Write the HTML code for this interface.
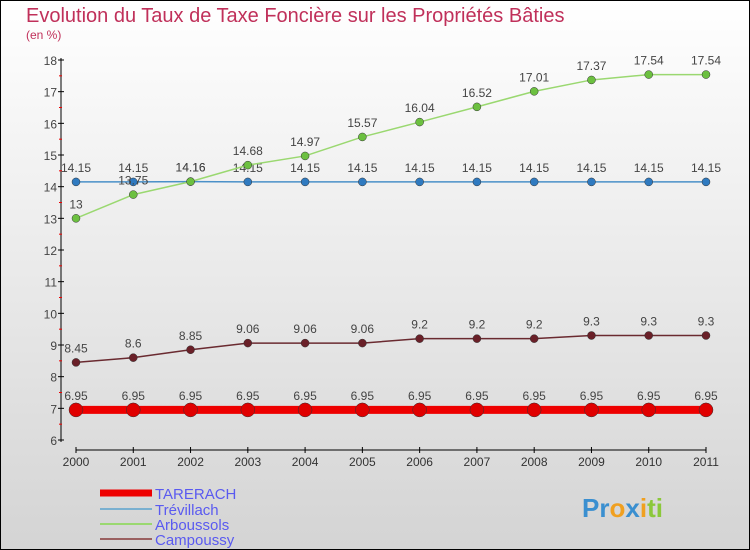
<!DOCTYPE html>
<html><head><meta charset="utf-8"><style>
body{margin:0}
#c{width:750px;height:550px;position:relative;overflow:hidden;font-family:"Liberation Sans",sans-serif}
</style></head><body>
<div id="c">
<svg id="s" width="750" height="550" xmlns="http://www.w3.org/2000/svg">
<defs><linearGradient id="bg" x1="0" y1="0" x2="0" y2="1"><stop offset="0" stop-color="#ffffff"/><stop offset="1" stop-color="#d4d4d4"/></linearGradient></defs>
<rect x="0.5" y="0.5" width="749" height="549" fill="url(#bg)" stroke="#000"/>
<text x="26" y="22" font-size="20" fill="#c0305a">Evolution du Taux de Taxe Foncière sur les Propriétés Bâties</text>
<text x="26" y="39" font-size="12" fill="#c0305a">(en %)</text>
<g id="axes"></g><g id="series"></g><g id="legend"></g>
<text x="582" y="517" font-size="26" font-weight="bold" fill="#3a8fd0">Pr<tspan fill="#f0a020">o</tspan><tspan fill="#3a8fd0">x</tspan><tspan fill="#f0a020">i</tspan><tspan fill="#8bc83a">ti</tspan></text>
</svg></div>
<script>
const years=[2000,2001,2002,2003,2004,2005,2006,2007,2008,2009,2010,2011];
const yTicks=[6,7,8,9,10,11,12,13,14,15,16,17,18];
const seriesNames=["TARERACH","Trévillach","Arboussols","Campoussy"];
const tarerach=[6.95,6.95,6.95,6.95,6.95,6.95,6.95,6.95,6.95,6.95,6.95,6.95];
const trevillach=[14.15,14.15,14.16,14.15,14.15,14.15,14.15,14.15,14.15,14.15,14.15,14.15];
const arboussols=[13,13.75,14.16,14.68,14.97,15.57,16.04,16.52,17.01,17.37,17.54,17.54];
const campoussy=[8.45,8.6,8.85,9.06,9.06,9.06,9.2,9.2,9.2,9.3,9.3,9.3];
const NS="http://www.w3.org/2000/svg";
const X=i=>76+i*(706-76)/(years.length-1);
const Y=v=>440-(v-6)*380/12;
function mk(t,a,p){const e=document.createElementNS(NS,t);for(const k in a)e.setAttribute(k,a[k]);p.appendChild(e);return e;}
const ax=document.getElementById('axes');
let e=mk('line',{x1:61,y1:58,x2:61,y2:442,stroke:'#000'},ax);


e=mk('line',{x1:76,y1:450,x2:706,y2:450,stroke:'#000'},ax);


yTicks.forEach((v,i)=>{
 mk('line',{x1:58,y1:Y(v),x2:64,y2:Y(v),stroke:'#000'},ax);
 if(i<yTicks.length-1) mk('line',{x1:59,y1:Y(v+0.5),x2:62,y2:Y(v+0.5),stroke:'#e00'},ax);
 const t=mk('text',{x:57,y:Y(v)+5,'font-size':12,fill:'#444','text-anchor':'end'},ax);t.textContent=v;
 
 
});
years.forEach((y,i)=>{
 mk('line',{x1:X(i),y1:447,x2:X(i),y2:453,stroke:'#000'},ax);
 const t=mk('text',{x:X(i),y:466,'font-size':12,fill:'#333','text-anchor':'middle'},ax);t.textContent=y;
 
 
});
const sg=document.getElementById('series');
const defs=[[trevillach,'#4a90c8','#2f7ac0',1.5,4,'trevillach'],[arboussols,'#9ad870','#6cc040',1.5,4,'arboussols'],[campoussy,'#6a2a30','#6a2028',1.5,4,'campoussy'],[tarerach,'#ee0000','#e00000',8,7,'tarerach']];
defs.forEach(([d,lc,pc,w,r,n])=>{
 const g=mk('g',{},sg);
 
 
 const l=mk('polyline',{points:d.map((v,i)=>X(i)+','+Y(v)).join(' '),fill:'none',stroke:lc,'stroke-width':w},g);
 
 
 d.forEach((v,i)=>{
  const c=mk('circle',{cx:X(i),cy:Y(v),r:r,fill:pc,stroke:'#333','stroke-width':0.5},g);
  
  
  const t=mk('text',{x:X(i),y:Y(v)-10,'font-size':12,fill:'#444','text-anchor':'middle'},g);t.textContent=v;
  
  
 });
});
const lg=document.getElementById('legend');
const lcols=['#ee0000','#7ab0d0','#9ad870','#9a6060'],lw=[7,2,2,2],ly=[493,509,524,539];
seriesNames.forEach((n,i)=>{
 const g=mk('g',{},lg);
 
 
 mk('line',{x1:100,y1:ly[i],x2:152,y2:ly[i],stroke:lcols[i],'stroke-width':lw[i]},g);
 const t=mk('text',{x:155,y:ly[i]+6,'font-size':15,fill:'#5a5af0'},g);t.textContent=n;
});
</script>
</body></html>
